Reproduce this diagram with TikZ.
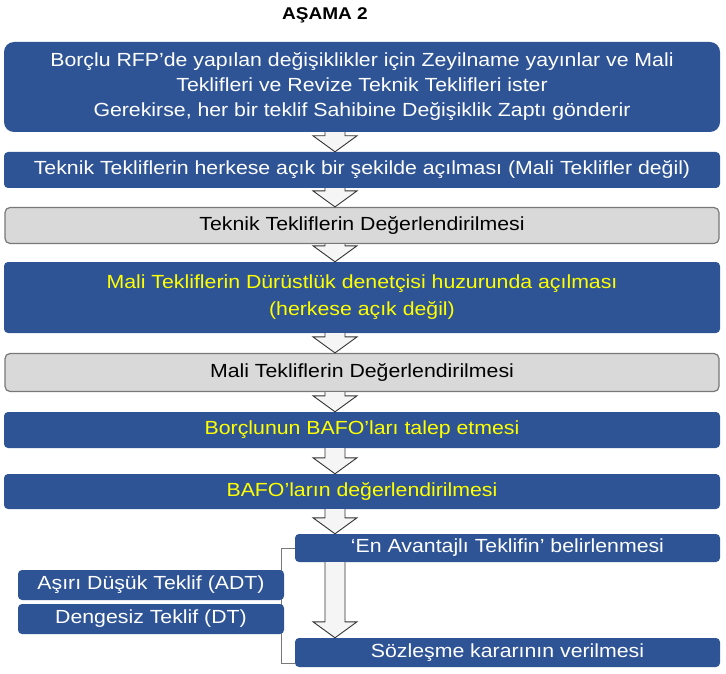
\documentclass[tikz,border=0pt]{standalone}
\usepackage{fontspec}
\setmainfont{Liberation Sans}[FakeStretch=1.12]
\usepackage{tikz}
\usetikzlibrary{calc}
\definecolor{stepblue}{RGB}{46, 84, 150}
\definecolor{stepgray}{RGB}{217, 217, 217}
\definecolor{stepedge}{RGB}{120, 120, 120}
\definecolor{stepyellow}{RGB}{255, 255, 0}

% hollow block arrow on the axis, from one box to the next
\newcommand{\blockdown}[2]{%
  \draw[blockarr] let \p1=(axis |- #1.south), \p2=(axis |- #2.north) in
    (\x1-10pt,\y1) -- (\x1-10pt,\y2+16pt) -- (\x1-22pt,\y2+16pt) -- (\x2,\y2)
    -- (\x1+22pt,\y2+16pt) -- (\x1+10pt,\y2+16pt) -- (\x1+10pt,\y1);}

\begin{document}
\begin{tikzpicture}[x=1pt, y=-1pt,
    bluebox/.style={fill=stepblue, text=white, rounded corners=4pt, inner sep=0pt},
    graybox/.style={fill=stepgray, draw=stepedge, line width=1.2pt, text=black, rounded corners=5pt, inner sep=0pt},
    blockarr/.style={draw=black!80, fill=gray!8, line width=0.9pt, line join=miter}]
    \useasboundingbox (0,0) rectangle (726,674);
    \fontsize{19}{25}\selectfont
    \coordinate (axis) at (335,0);

    % title
    \node[font=\bfseries\fontsize{17}{20}\selectfont] (title) at (325,15) {AŞAMA 2};

    % main column
    \node[bluebox, rounded corners=10pt, minimum width=716, minimum height=90, align=center] (b1) at (362,87)
        {Borçlu RFP’de yapılan değişiklikler için Zeyilname yayınlar ve Mali\\
         Teklifleri ve Revize Teknik Teklifleri ister\\
         Gerekirse, her bir teklif Sahibine Değişiklik Zaptı gönderir};
    \node[bluebox, minimum width=716, minimum height=36] (b2) at (362,170)
        {Teknik Tekliflerin herkese açık bir şekilde açılması (Mali Teklifler değil)};
    \node[graybox, minimum width=714, minimum height=36] (b3) at (362,225.5)
        {Teknik Tekliflerin Değerlendirilmesi};
    \node[bluebox, text=stepyellow, minimum width=716, minimum height=71, align=center,
          font=\fontsize{19}{27}\selectfont] (b4) at (362,297.5)
        {Mali Tekliflerin Dürüstlük denetçisi huzurunda açılması\\
         (herkese açık değil)};
    \node[graybox, minimum width=714, minimum height=38] (b5) at (362,372.5)
        {Mali Tekliflerin Değerlendirilmesi};
    \node[bluebox, text=stepyellow, minimum width=716, minimum height=36] (b6) at (362,430)
        {Borçlunun BAFO’ları talep etmesi};
    \node[bluebox, text=stepyellow, minimum width=716, minimum height=35] (b7) at (362,491.5)
        {BAFO’ların değerlendirilmesi};

    % last step
    \node[bluebox, minimum width=425, minimum height=28] (b8) at (507.5,548)
        {‘En Avantajlı Teklifin’ belirlenmesi};
    \node[bluebox, minimum width=425, minimum height=29] (b9) at (507.5,652.5)
        {Sözleşme kararının verilmesi};

    % bracket and side checks
    \draw[stepedge, line width=1pt] (b8.west) -- ++(-13,0) |- ([yshift=4pt]b9.south west);
    \node[bluebox, minimum width=266, minimum height=30] (adt) at (151,585)
        {Aşırı Düşük Teklif (ADT)};
    \node[bluebox, minimum width=266, minimum height=30] (dt) at (151,619)
        {Dengesiz Teklif (DT)};

    % arrows
    \blockdown{b1}{b2}
    \blockdown{b2}{b3}
    \blockdown{b3}{b4}
    \blockdown{b4}{b5}
    \blockdown{b5}{b6}
    \blockdown{b6}{b7}
    \blockdown{b7}{b8}
    \blockdown{b8}{b9}
\end{tikzpicture}
\end{document}
